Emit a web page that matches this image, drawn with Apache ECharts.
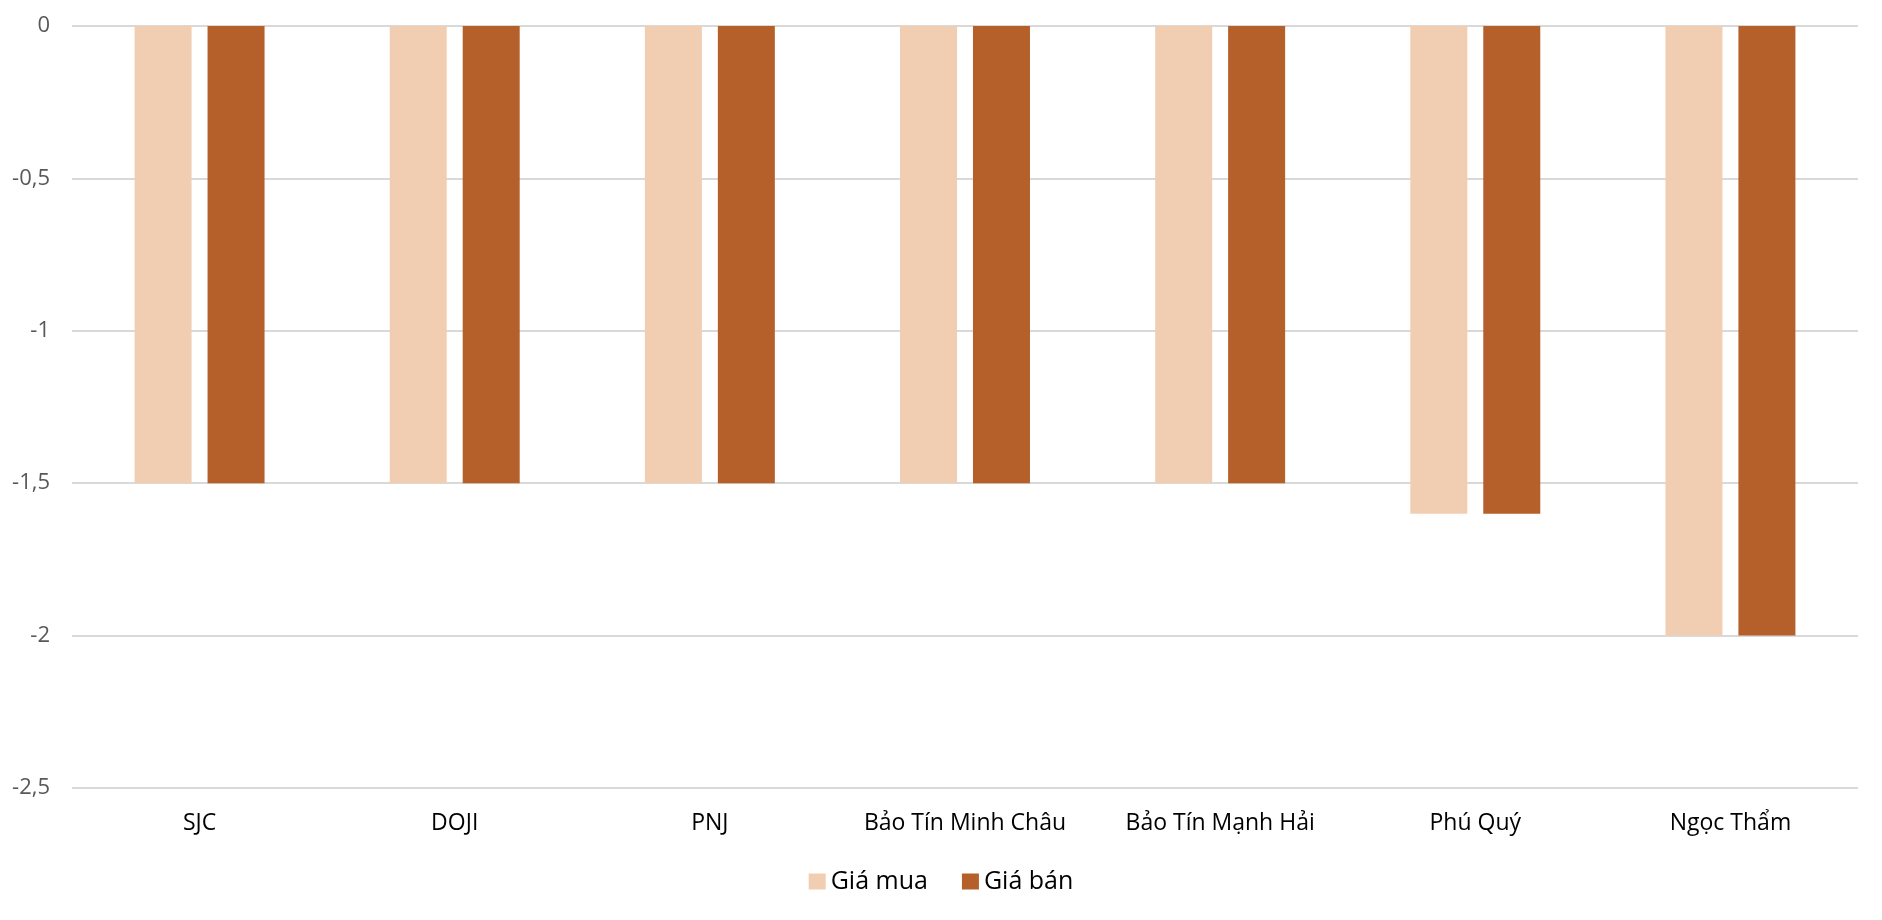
<!DOCTYPE html>
<html>
<head>
<meta charset="utf-8">
<script src="https://cdn.jsdelivr.net/npm/echarts@6/dist/echarts.min.js"></script>
<style>
html,body{margin:0;padding:0;background:#fff;}
#chart{width:1882px;height:920px;}
</style>
</head>
<body>
<div id="chart"></div>
<script>
const categories = ['SJC', 'DOJI', 'PNJ', 'Bảo Tín Minh Châu', 'Bảo Tín Mạnh Hải', 'Phú Quý', 'Ngọc Thẩm'];
const giaMua = [-1.5, -1.5, -1.5, -1.5, -1.5, -1.6, -2];
const giaBan = [-1.5, -1.5, -1.5, -1.5, -1.5, -1.6, -2];
const seriesNames = ['Giá mua', 'Giá bán'];

const chart = echarts.init(document.getElementById('chart'), null, {renderer: 'canvas'});
const FONT = 'Open Sans';
chart.setOption({
  animation: false,
  backgroundColor: '#ffffff',
  grid: {left: 72, right: 24, top: 26, bottom: 132, containLabel: false},
  legend: {
    data: seriesNames,
    bottom: 21,
    left: 'center',
    itemWidth: 17,
    itemHeight: 16,
    itemGap: 34,
    icon: 'rect',
    textStyle: {fontFamily: FONT, fontSize: 25, color: '#000000'}
  },
  xAxis: {
    type: 'category',
    data: categories,
    position: 'bottom',
    axisLine: {show: false},
    axisTick: {show: false},
    axisLabel: {fontFamily: FONT, fontSize: 23, color: '#000000', margin: 24, interval: 0}
  },
  yAxis: {
    type: 'value',
    min: -2.5,
    max: 0,
    interval: 0.5,
    axisLine: {show: false},
    axisTick: {show: false},
    splitLine: {lineStyle: {color: '#d9d9d9', width: 2}},
    axisLabel: {
      fontFamily: FONT, fontSize: 22, color: '#595959', margin: 22,
      formatter: v => String(v).replace('.', ',')
    }
  },
  series: [
    {
      name: seriesNames[0], type: 'bar', data: giaMua,
      barWidth: 57, barGap: '28%', barCategoryGap: '49%',
      itemStyle: {color: '#F1CEB2'}
    },
    {
      name: seriesNames[1], type: 'bar', data: giaBan,
      barWidth: 57, barGap: '28%', barCategoryGap: '49%',
      itemStyle: {color: '#B5602A'}
    }
  ]
});
</script>
</body>
</html>
